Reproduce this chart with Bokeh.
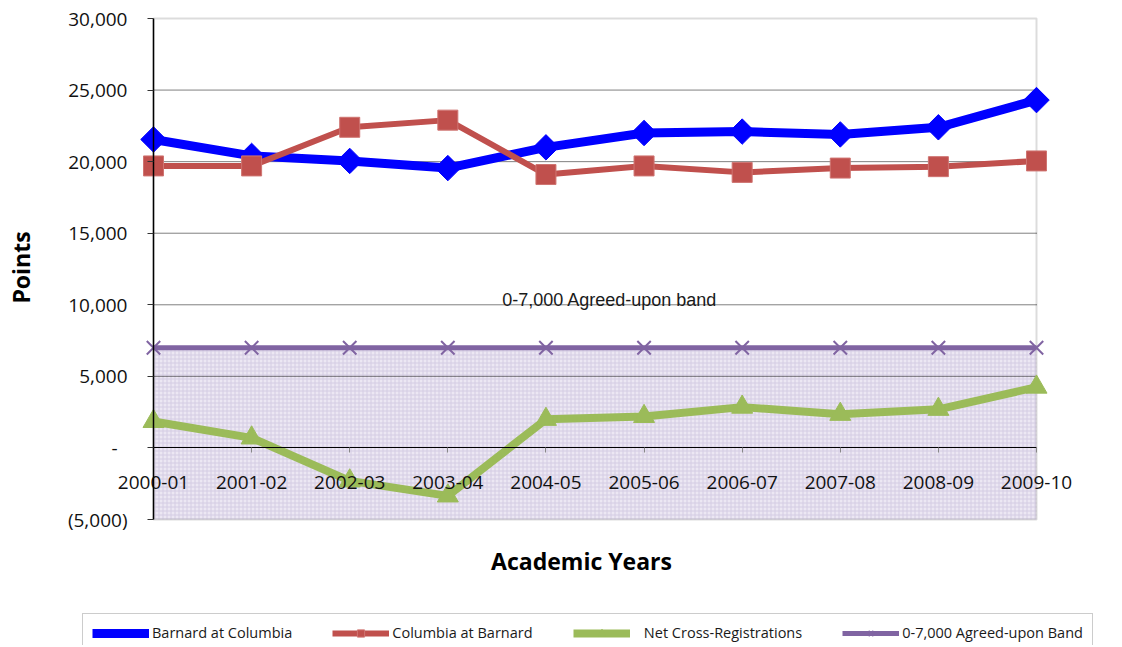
import numpy as np
from bokeh.plotting import figure
from bokeh.models import (Range1d, FixedTicker, LinearAxis, Legend, LegendItem,
                          BoxAnnotation, Label)
from bokeh.embed import file_html
from bokeh.resources import INLINE

# ---------------- data ----------------
years = ["2000-01", "2001-02", "2002-03", "2003-04", "2004-05",
         "2005-06", "2006-07", "2007-08", "2008-09", "2009-10"]
barnard_at_columbia = [21550, 20400, 20050, 19550, 21000, 22000, 22100, 21900, 22400, 24300]
columbia_at_barnard = [19700, 19700, 22400, 22900, 19100, 19700, 19250, 19550, 19650, 20050]
net_cross_registrations = [1850, 700, -2300, -3350, 2000, 2200, 2850, 2350, 2700, 4250]
agreed_band = [7000, 7000, 7000, 7000, 7000, 7000, 7000, 7000, 7000, 7000]
y_ticks = [-5000, 0, 5000, 10000, 15000, 20000, 25000, 30000]

Y_MIN, Y_MAX = y_ticks[0], y_ticks[-1]
xs = list(range(len(years)))
X_LAST = xs[-1]

BLUE = "#0000ff"
RED = "#c0504d"
GREEN = "#9bbb59"
PURPLE = "#8064a2"

# ---------------- layout (pixels) ----------------
W, H = 1120, 645
PLOT_L, PLOT_R, PLOT_T, PLOT_B = 153, 1036, 18, 519   # plot-area box on the canvas
px_x = (PLOT_R - PLOT_L) / X_LAST
px_y = (PLOT_B - PLOT_T) / (Y_MAX - Y_MIN)
x_start = -PLOT_L / px_x
x_end = X_LAST + (W - PLOT_R) / px_x
y_end = Y_MAX + PLOT_T / px_y
y_start = Y_MIN - (H - PLOT_B) / px_y

p = figure(width=W, height=H, output_backend="svg", toolbar_location=None,
           x_range=Range1d(x_start, x_end), y_range=Range1d(y_start, y_end),
           x_axis_type=None, y_axis_type=None,
           min_border_left=0, min_border_right=0,
           min_border_top=0, min_border_bottom=0)
p.outline_line_color = None
p.background_fill_color = "white"
p.border_fill_color = "white"


def fmt(v):
    if v == 0:
        return "-\u00a0\u00a0"
    if v < 0:
        return "({:,})".format(-v)
    return "{:,}".format(v)


# ---------------- band + plot area border ----------------
band_box = BoxAnnotation(left=xs[0], right=X_LAST, bottom=Y_MIN, top=agreed_band[0],
                         fill_color="#ece7f3", fill_alpha=1,
                         hatch_pattern="+", hatch_color="#d4cce3", hatch_scale=4,
                         hatch_weight=1, line_color=None, level="underlay")
p.add_layout(band_box)

border_box = BoxAnnotation(left=xs[0], right=X_LAST, bottom=Y_MIN, top=Y_MAX,
                           fill_color=None, fill_alpha=0,
                           line_color="#8a8a8a", line_width=2, level="underlay")
p.add_layout(border_box)

# ---------------- axes ----------------
yaxis = LinearAxis(ticker=FixedTicker(ticks=y_ticks), fixed_location=0,
                   bounds=(Y_MIN, Y_MAX))
yaxis.major_label_overrides = {t: fmt(t) for t in y_ticks}
yaxis.minor_tick_line_color = None
yaxis.major_tick_out = 6
yaxis.major_tick_in = 0
yaxis.axis_line_color = "black"
yaxis.axis_line_width = 1.5
yaxis.major_tick_line_color = "#333333"
yaxis.major_label_standoff = 20
yaxis.major_label_text_font = "Open Sans"
yaxis.major_label_text_font_size = "19px"
yaxis.major_label_text_color = "#111111"
p.add_layout(yaxis, "left")

xaxis = LinearAxis(ticker=FixedTicker(ticks=xs), fixed_location=0,
                   bounds=(xs[0], X_LAST))
xaxis.major_label_overrides = {i: years[i] for i in xs}
xaxis.minor_tick_line_color = None
xaxis.major_tick_out = 5
xaxis.major_tick_in = 0
xaxis.axis_line_color = "black"
xaxis.axis_line_width = 1
xaxis.major_tick_line_color = "#888888"
xaxis.major_label_standoff = 23
xaxis.major_label_text_font = "Open Sans"
xaxis.major_label_text_font_size = "19px"
xaxis.major_label_text_color = "#111111"
p.add_layout(xaxis, "below")

# dotted gridlines between 0 and the top
grid_vals = [t for t in y_ticks if 0 < t < Y_MAX]
p.segment(x0=[xs[0]] * len(grid_vals), x1=[X_LAST] * len(grid_vals),
          y0=grid_vals, y1=grid_vals, line_color="#000000", line_dash="1 1",
          line_width=1)

# ---------------- series ----------------
r_b_line = p.line(xs, barnard_at_columbia, line_color=BLUE, line_width=9, line_join="round")
r_b_mark = p.scatter(xs, barnard_at_columbia, marker="square", angle=np.pi / 4, size=18,
                     fill_color=BLUE, line_color=BLUE)

r_c_line = p.line(xs, columbia_at_barnard, line_color=RED, line_width=6, line_join="round")
r_c_mark = p.scatter(xs, columbia_at_barnard, marker="square", size=20,
                     fill_color=RED, line_color="#cf7471", line_width=1)

r_n_line = p.line(xs, net_cross_registrations, line_color=GREEN, line_width=8, line_join="round")
r_n_mark = p.scatter(xs, net_cross_registrations, marker="triangle", size=21,
                     fill_color=GREEN, line_color=GREEN)

r_a_line = p.line(xs, agreed_band, line_color=PURPLE, line_width=5)
r_a_mark = p.scatter(xs, agreed_band, marker="x", size=19, line_color=PURPLE, line_width=2)

# ---------------- texts ----------------
p.add_layout(Label(x=4.65, y=10300, text="0-7,000 Agreed-upon band",
                   text_font="Liberation Sans", text_font_size="18px",
                   text_color="#1a1a1a", text_align="center", text_baseline="middle"))

p.add_layout(Label(x=581, y=H - 560, x_units="screen", y_units="screen",
                   text="Academic Years", text_font="Open Sans", text_font_style="bold",
                   text_font_size="23px", text_color="black",
                   text_align="center", text_baseline="middle"))

p.add_layout(Label(x=20, y=H - 267, x_units="screen", y_units="screen", angle=np.pi / 2,
                   text="Points", text_font="Open Sans", text_font_style="bold",
                   text_font_size="23px", text_color="black",
                   text_align="center", text_baseline="middle"))

# ---------------- legend ----------------
legend = Legend(items=[
    LegendItem(label="Barnard at Columbia", renderers=[r_b_line, r_b_mark]),
    LegendItem(label="Columbia at Barnard", renderers=[r_c_line, r_c_mark]),
    LegendItem(label="\u00a0\u00a0\u00a0Net Cross-Registrations", renderers=[r_n_line, r_n_mark]),
    LegendItem(label="0-7,000 Agreed-upon Band", renderers=[r_a_line, r_a_mark]),
], orientation="horizontal", location=(82, H - 614 - 38), margin=0,
    glyph_width=57, glyph_height=18, label_height=18, label_standoff=3,
    spacing=40, padding=9,
    border_line_color="#9a9a9a", border_line_width=1.5,
    background_fill_color="white", background_fill_alpha=1,
    label_text_font="Open Sans", label_text_font_size="14.5px", label_text_color="#1a1a1a")
p.add_layout(legend, "center")

open("out.html", "w").write(file_html(p, INLINE))
